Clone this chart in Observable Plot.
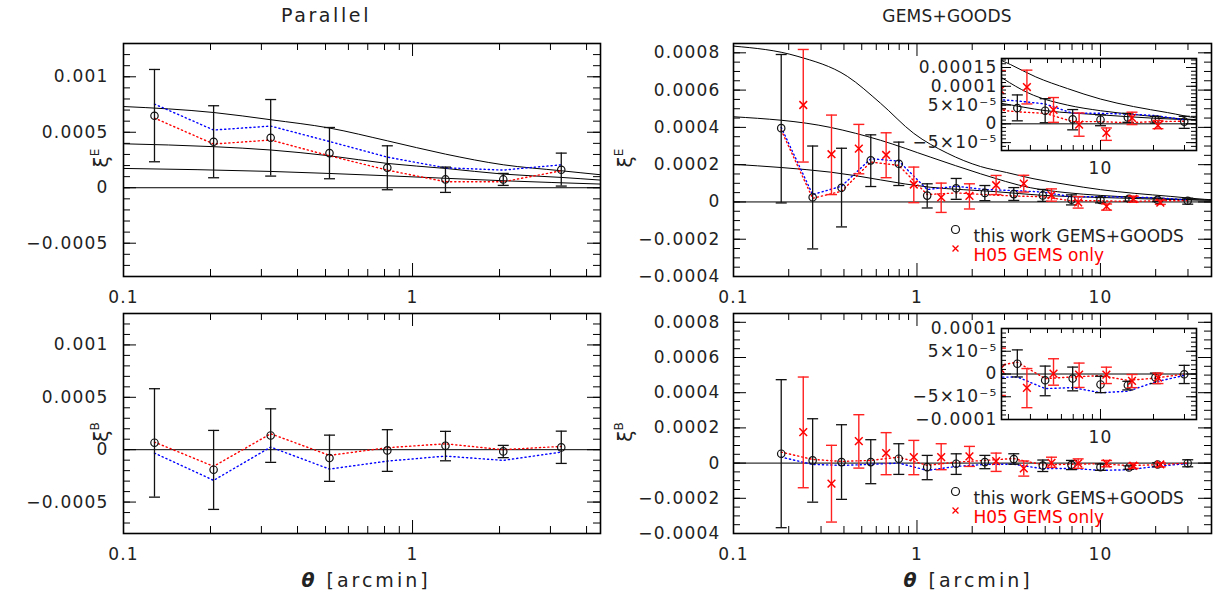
<!DOCTYPE html>
<html><head><meta charset="utf-8">
<script src="https://cdn.jsdelivr.net/npm/d3@7"></script>
<script src="https://cdn.jsdelivr.net/npm/@observablehq/plot@0.6"></script>
<style>
body{margin:0;background:#fff;}
#wrap{position:relative;width:1218px;height:599px;overflow:hidden;font-family:"DejaVu Sans",sans-serif;color:#222;background:#fff;}
.lab{position:absolute;white-space:nowrap;transform:translate(-50%,-50%);line-height:1;}
#wrap svg g[aria-label$="tick label"]{letter-spacing:1.2px;}
</style></head><body><div id="wrap"></div>
<script>
// ---------------- data: Parallel (left column) ----------------
const thetaPar = [0.128, 0.205, 0.323, 0.516, 0.818, 1.30, 2.06, 3.27];
const parE     = [0.000649, 0.000414, 0.00045, 0.000312, 0.00018, 0.000075, 0.000075, 0.000162];
const parEhi   = [0.001066, 0.000739, 0.000795, 0.000543, 0.000378, 0.000186, 0.000129, 0.000312];
const parElo   = [0.000234, 0.00009, 0.000105, 0.000081, -0.000018, -0.000042, 0.000021, 0.000015];
const parEblue = [0.000754, 0.00052, 0.000556, 0.000417, 0.000276, 0.00018, 0.000159, 0.000207];
const parEred  = [0.000628, 0.000394, 0.00043, 0.000288, 0.000159, 0.000054, 0.000054, 0.000153];
const parB     = [0.0000668, -0.000191, 0.000136, -0.00008, -0.0000067, 0.0000382, -0.0000162, 0.000022];
const parBhi   = [0.000582, 0.000184, 0.00039, 0.000139, 0.000191, 0.000175, 0.000041, 0.000177];
const parBlo   = [-0.000453, -0.00057, -0.000121, -0.000302, -0.000207, -0.000106, -0.000076, -0.000131];
const parBblue = [-0.0000324, -0.000293, 0.0000248, -0.000185, -0.000109, -0.0000611, -0.000102, -0.0000229];
const parBred  = [0.0000725, -0.000159, 0.000152, -0.0000544, 0.000019, 0.0000563, 0, 0.0000315];
// model curves (left)
const modParT12 = [0.1, 0.205, 0.323, 0.516, 0.818, 1.30, 2.06, 3.27, 4.47];
const modPar1   = [0.000732, 0.000678, 0.000613, 0.000538, 0.000423, 0.000303, 0.000207, 0.000153, 0.000117];
const modPar2   = [0.000396, 0.00037, 0.00034, 0.000288, 0.000219, 0.000174, 0.000123, 0.000093, 0.000069];
const modParT3  = [0.1, 0.323, 0.818, 2.06, 4.47];
const modPar3   = [0.000174, 0.000147, 0.000108, 0.000063, 0.000033];

// ---------------- data: GEMS+GOODS (right column) ----------------
const thetaGG = [0.182, 0.270, 0.388, 0.560, 0.796, 1.137, 1.636, 2.344, 3.37, 4.85, 6.95, 10.0, 14.3, 20.5, 29.9];
const ggE     = [0.000396, 0.0000249, 0.0000757, 0.000223, 0.000205, 0.000034, 0.0000735, 0.0000486, 0.000042, 0.000035, 0.000012, 0.000011, 0.000017, 0.000011, 0.000006];
const ggEhi   = [0.000791, 0.0003, 0.000288, 0.00036, 0.000321, 0.0000973, 0.000126, 0.0000881, 0.000077, 0.000067, 0.000038, 0.000024, 0.000028, 0.00002, 0.00002];
const ggElo   = [-0.0000054, -0.000252, -0.000134, 0.0000827, 0.0000881, -0.0000324, 0.000014, 0.000007, 0.000008, 0.000003, -0.000016, -0.000005, 0.000004, 0.000002, -0.000012];
const ggEblue = [0.0004, 0.0000395, 0.0000843, 0.000232, 0.000219, 0.0000665, 0.0000843, 0.0000665, 0.000061, 0.000053, 0.000028, 0.000028, 0.000026, 0.000022, 0.000011];
const ggEred  = [0.000385, 0.0000195, 0.0000573, 0.000214, 0.000196, 0.0000395, 0.0000486, 0.0000395, 0.000032, 0.000028, 0.000006, 0.000006, 0.000003, 0.000006, 0.000007];
const ggB     = [0.0000534, 0.0000153, 0.0000057, 0.0000057, 0.000025, -0.0000227, -0.0000034, 0.0000057, 0.0000226, -0.0000137, -0.00001, -0.000023, -0.0000246, -0.0000078, -0.0000007];
const ggBhi   = [0.000474, 0.000252, 0.000218, 0.000133, 0.00011, 0.0000438, 0.0000528, 0.0000438, 0.000053, 0.0000174, 0.0000152, -0.000005, -0.000016, 0.000002, 0.000019];
const ggBlo   = [-0.000367, -0.000222, -0.000206, -0.000117, -0.0000642, -0.0000943, -0.0000642, -0.0000318, -0.0000065, -0.0000478, -0.000037, -0.000041, -0.000035, -0.000021, -0.000021];
const ggBblue = [0.0000341, -0.0000074, -0.000013, -0.0000074, 0, -0.0000415, -0.0000188, -0.0000074, -0.0000065, -0.000032, -0.00003, -0.000041, -0.000038, -0.0000174, -0.000003];
const ggBred  = [0.0000625, 0.000021, 0.0000097, 0.0000153, 0.0000341, -0.000013, 0.0000057, 0.0000153, 0.000026, -0.00001, -0.0000065, -0.0000035, -0.000014, -0.000009, 0];
// H05 GEMS only
const thetaH05 = [0.240, 0.342, 0.482, 0.679, 0.961, 1.355, 1.932, 2.70, 3.82, 5.41, 7.56, 10.8, 15.1, 21.2];
const h05E   = [0.00052, 0.000256, 0.000286, 0.000252, 0.0000935, 0.0000249, 0.0000324, 0.0000897, 0.000098, 0.000037, -0.000002, -0.000024, 0.000016, -0.000004];
const h05Ehi = [0.000818, 0.000466, 0.000416, 0.000371, 0.000187, 0.000101, 0.0000973, 0.000142, 0.000143, 0.00007, 0.000029, -0.000011, 0.000031, 0.000009];
const h05Elo = [0.000214, 0.0000395, 0.000151, 0.00013, -0.0000038, -0.0000562, -0.0000378, 0.0000395, 0.000053, 0.000004, -0.000033, -0.000044, -0.000002, -0.000013];
const h05B   = [0.000176, -0.000117, 0.000125, 0.0000568, 0.0000341, 0.0000341, 0.0000381, 0.0000114, -0.0000304, 0.0000009, -0.0000013, -0.0000013, -0.000015, -0.0000078];
const h05Bhi = [0.000489, 0.000101, 0.000275, 0.000173, 0.000129, 0.00011, 0.0000949, 0.0000568, 0.000012, 0.0000335, 0.000024, 0.000015, -0.000001, 0.000002];
const h05Blo = [-0.00014, -0.000335, -0.0000284, -0.0000659, -0.0000659, -0.0000375, -0.0000188, -0.0000472, -0.000074, -0.0000246, -0.0000296, -0.000021, -0.00003, -0.000021];
// model curves (right)
const modGGT1 = [0.1, 0.222, 0.417, 0.632, 0.96, 1.46, 2.22, 3.08, 4.29, 6.49, 10, 15.4, 24, 37, 40.3];
const modGG1  = [0.000836, 0.000782, 0.000674, 0.00053, 0.000368, 0.000262, 0.000190, 0.000158, 0.000125, 0.000094, 0.000066, 0.000046, 0.00003, 0.000014, 0.000012];
const modGGT2 = [0.1, 0.337, 0.632, 1.18, 2.22, 4.17, 6.49, 10, 15.4, 29.6, 40.3];
const modGG2  = [0.000457, 0.0004, 0.000331, 0.000241, 0.000151, 0.000076, 0.00005, 0.000035, 0.000025, 0.000013, 0.00001];
const modGGT3 = [0.1, 0.337, 1.18, 2.7, 4.9, 10, 20, 40.3];
const modGG3  = [0.000202, 0.00016, 0.0000789, 0.000055, 0.000035, 0.000024, 0.000015, 0.000009];

// ---------------- tick labels ----------------
const xLabPar = [0.1, 1];
const xLabGG = [0.1, 1, 10];
const xLabInset = [10];
const yLabPar = [-0.0005, 0, 0.0005, 0.001];
const yLabGG = [-0.0004, -0.0002, 0, 0.0002, 0.0004, 0.0006, 0.0008];
const yLabInsetE = [-0.00005, 0, 0.00005, 0.0001, 0.00015];
const yTxtInsetE = ["−5×10⁻⁵", "0", "5×10⁻⁵", "0.0001", "0.00015"];
const yLabInsetB = [-0.0001, -0.00005, 0, 0.00005, 0.0001];
const yTxtInsetB = ["−0.0001", "−5×10⁻⁵", "0", "5×10⁻⁵", "0.0001"];
const legendTxt = ["this work GEMS+GOODS", "H05 GEMS only"];

// ---------------- helpers ----------------
const wrap = document.getElementById("wrap");
const FONT = "'DejaVu Sans', sans-serif";
const RED = "#ff0000", BLUE = "#0000ff";
const fmtNum = d => d === 0 ? "0" : (d < 0 ? "−" : "") + String(+Math.abs(d).toPrecision(6));
const capSym = {draw(ctx, size) { const r = Math.sqrt(size / Math.PI); ctx.moveTo(-r, 0); ctx.lineTo(r, 0); }};
const rowsOf = (t, v, hi, lo) => t.map((x, i) => ({t: x, v: v[i], hi: hi ? hi[i] : null, lo: lo ? lo[i] : null}));
function logMinor(lo, hi) { const out = []; for (let e = -1; e <= 2; e++) for (let k = 2; k <= 9; k++) { const v = k * 10 ** e; if (v > lo * 1.01 && v < hi * 0.99) out.push(+v.toPrecision(3)); } return out; }
function linRange(a, b, s) { const out = []; const n = Math.round((b - a) / s); for (let i = 0; i <= n; i++) out.push(+(a + i * s).toPrecision(6)); return out; }

function dataMarks(o, clip) {
  const c = {clip};
  const m = [Plot.ruleY([0], {stroke: "black", strokeWidth: 1, ...c})];
  for (const [t, v] of (o.models || [])) m.push(Plot.line(rowsOf(t, v), {x: "t", y: "v", stroke: "black", strokeWidth: 1, curve: "monotone-x", ...c}));
  m.push(Plot.line(rowsOf(o.t, o.blue), {x: "t", y: "v", stroke: BLUE, strokeWidth: 1.4, strokeDasharray: "1.2,3", ...c}));
  m.push(Plot.line(rowsOf(o.t, o.red), {x: "t", y: "v", stroke: RED, strokeWidth: 1.4, strokeDasharray: "1.2,3", ...c}));
  const err = (rows, col, sw) => [
    Plot.ruleX(rows, {x: "t", y1: "lo", y2: "hi", stroke: col, strokeWidth: sw, ...c}),
    Plot.dot(rows, {x: "t", y: "hi", symbol: capSym, r: 5.5, stroke: col, fill: "none", strokeWidth: sw, ...c}),
    Plot.dot(rows, {x: "t", y: "lo", symbol: capSym, r: 5.5, stroke: col, fill: "none", strokeWidth: sw, ...c})
  ];
  const pr = rowsOf(o.t, o.v, o.hi, o.lo);
  m.push(...err(pr, "#111", 1.3));
  m.push(Plot.dot(pr, {x: "t", y: "v", r: 3.7, stroke: "#111", fill: "none", strokeWidth: 1.2, ...c}));
  if (o.h) {
    const hr = rowsOf(o.h.t, o.h.v, o.h.hi, o.h.lo);
    m.push(...err(hr, "#ff2020", 1.4));
    m.push(Plot.dot(hr, {x: "t", y: "v", r: 3.6, symbol: "times", stroke: RED, strokeWidth: 1.5, ...c}));
  }
  return m;
}

function legendMarks(dy) {
  return [
    Plot.dot([0], {frameAnchor: "top-left", dx: 222, dy, r: 4, stroke: "#111", fill: "none", strokeWidth: 1.2}),
    Plot.text([legendTxt[0]], {frameAnchor: "top-left", dx: 240, dy, text: d => d, textAnchor: "start", fill: "#222"}),
    Plot.dot([0], {frameAnchor: "top-left", dx: 222, dy: dy + 19, r: 2.8, symbol: "times", stroke: RED, strokeWidth: 1.3}),
    Plot.text([legendTxt[1]], {frameAnchor: "top-left", dx: 240, dy: dy + 19, text: d => d, textAnchor: "start", fill: RED})
  ];
}

function makePanel(o) {
  const ih = o.height - o.mt - o.mb, iw = o.width - o.ml - o.mr;
  const M = o.M, m = o.m;
  const ticks = [];
  for (const [vals, len] of [[o.xMajor, M], [o.xMinor, m]]) {
    ticks.push(Plot.tickX(vals, {x: d => d, insetBottom: ih - len, stroke: "black", strokeWidth: 1}));
    ticks.push(Plot.tickX(vals, {x: d => d, insetTop: ih - len, stroke: "black", strokeWidth: 1}));
  }
  for (const [vals, len] of [[o.yMajor, M], [o.yMinor, m]]) {
    ticks.push(Plot.tickY(vals, {y: d => d, insetRight: iw - len, stroke: "black", strokeWidth: 1}));
    ticks.push(Plot.tickY(vals, {y: d => d, insetLeft: iw - len, stroke: "black", strokeWidth: 1}));
  }
  const svg = Plot.plot({
    width: o.width, height: o.height,
    marginTop: o.mt, marginRight: o.mr, marginBottom: o.mb, marginLeft: o.ml,
    x: {type: "log", domain: o.xDomain},
    y: {domain: o.yDomain},
    style: {fontFamily: FONT, fontSize: "17px", color: "#222", background: "transparent", overflow: "visible"},
    marks: [
      o.bg ? Plot.frame({fill: "white", stroke: null}) : null,
      ...o.marks,
      ...ticks,
      Plot.frame({stroke: "black", strokeWidth: 1.6}),
      Plot.axisX(o.xLabels, {tickSize: 0, tickPadding: o.xPad, tickFormat: o.xFmt || (d => String(d)), fill: "#222", label: null}),
      Plot.axisY(o.yLabels, {tickSize: 0, tickPadding: o.yPad, tickFormat: o.yFmt || fmtNum, fill: "#222", label: null})
    ]
  });
  svg.style.position = "absolute";
  svg.style.left = o.left + "px";
  svg.style.top = o.top + "px";
  wrap.appendChild(svg);
}

function label(html, x, y, css) {
  const d = document.createElement("div");
  d.className = "lab"; d.innerHTML = html;
  d.style.left = x + "px"; d.style.top = y + "px";
  Object.assign(d.style, css || {});
  wrap.appendChild(d);
}

// ---------------- panels ----------------
const domPar = [0.1, 4.47], domGG = [0.1, 40.3], domInset = [2.74, 35.1];
const yDomPar = [-0.0008, 0.0013], yDomGG = [-0.0004, 0.00085];
const yMinorPar = linRange(-0.0007, 0.0012, 0.0001);
const yMinorGG = linRange(-0.00035, 0.0008, 0.00005);

const parallel = (top, height, mt, mb, v) => makePanel({
  left: 0, top, width: 610, height, mt, mb, ml: 123, mr: 10, M: 13, m: 7,
  xDomain: domPar, yDomain: yDomPar, xMajor: [1], xMinor: logMinor(0.1, 4.47),
  yMajor: yLabPar, yMinor: yMinorPar, xLabels: xLabPar, yLabels: yLabPar, xPad: 14, yPad: 15,
  marks: dataMarks(v, false)
});
parallel(0, 300, 43, 24, {t: thetaPar, v: parE, hi: parEhi, lo: parElo, blue: parEblue, red: parEred,
  models: [[modParT12, modPar1], [modParT12, modPar2], [modParT3, modPar3]]});
parallel(300, 270, 13, 37, {t: thetaPar, v: parB, hi: parBhi, lo: parBlo, blue: parBblue, red: parBred});

const ggE_ = {t: thetaGG, v: ggE, hi: ggEhi, lo: ggElo, blue: ggEblue, red: ggEred,
  h: {t: thetaH05, v: h05E, hi: h05Ehi, lo: h05Elo},
  models: [[modGGT1, modGG1], [modGGT2, modGG2], [modGGT3, modGG3]]};
const ggB_ = {t: thetaGG, v: ggB, hi: ggBhi, lo: ggBlo, blue: ggBblue, red: ggBred,
  h: {t: thetaH05, v: h05B, hi: h05Bhi, lo: h05Blo}};

const gems = (top, height, mt, mb, v, legDy) => makePanel({
  left: 610, top, width: 608, height, mt, mb, ml: 123, mr: 7, M: 13, m: 7,
  xDomain: domGG, yDomain: yDomGG, xMajor: [1, 10], xMinor: logMinor(0.1, 40.3),
  yMajor: yLabGG, yMinor: yMinorGG, xLabels: xLabGG, yLabels: yLabGG, xPad: 14, yPad: 13,
  marks: [...dataMarks(v, false), ...legendMarks(legDy)]
});
gems(0, 300, 43, 24, ggE_, 186);
gems(300, 270, 13, 37, ggB_, 178);

// insets
const inset = (top, mt, mb, yDom, yLab, yTxt, v) => makePanel({
  left: 900, top, width: 310, height: 140, mt, mb, ml: 101, mr: 14, M: 10, m: 5, bg: true,
  xDomain: domInset, yDomain: yDom, xMajor: [10], xMinor: logMinor(2.74, 35.1),
  yMajor: yLab, yMinor: linRange(yDom[0] < -0.00009 ? -0.00009 : -0.00006, yDom[1] > 0.00016 ? 0.00017 : 0.00009, 0.00001),
  xLabels: xLabInset, yLabels: yLab, xPad: 11, yPad: 4,
  yFmt: d => yTxt[yLab.indexOf(d)],
  marks: dataMarks(v, true)
});
inset(40, 18, 30, [-0.000071, 0.000174], yLabInsetE, yTxtInsetE, ggE_);
inset(310, 18, 31, [-0.0001, 0.0001], yLabInsetB, yTxtInsetB, ggB_);

// ---------------- titles and axis labels ----------------
label("Parallel", 326, 15, {fontSize: "19px", letterSpacing: "2.6px"});
label("GEMS+GOODS", 947, 16, {fontSize: "17px", letterSpacing: "0.2px"});
label('<i style="font-weight:bold">θ</i> [arcmin]', 366, 580, {fontSize: "19px", letterSpacing: "3px"});
label('<i style="font-weight:bold">θ</i> [arcmin]', 968, 580, {fontSize: "19px", letterSpacing: "3px"});
const xi = s => 'ξ<span style="font-size:12px;position:relative;top:-9px">' + s + '</span>';
const rot = {fontSize: "20px", transform: "translate(-50%,-50%) rotate(-90deg)"};
label(xi("E"), 101, 158, rot);
label(xi("B"), 101, 432, rot);
label(xi("E"), 625, 158, rot);
label(xi("B"), 625, 432, rot);
</script></body></html>
